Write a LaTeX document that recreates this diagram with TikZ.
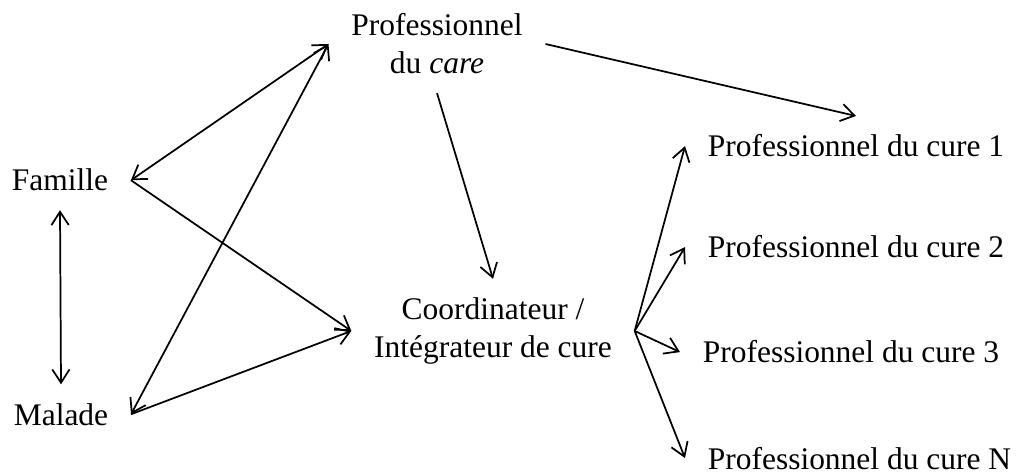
\documentclass[tikz,border=0pt]{standalone}
\usepackage{fontspec}
\setmainfont{Liberation Serif}
\usetikzlibrary{arrows.meta}

\begin{document}
\begin{tikzpicture}[x=0.75pt,y=-0.75pt,line width=1.3pt,
    >={Straight Barb[length=10pt,width=13pt]}]
        \tikzstyle{txt} = [inner xsep=16.5pt,inner ysep=13.5pt,font=\fontsize{23.6}{28.5}\selectfont]
        \useasboundingbox (0,0) rectangle (1016,473);

        \node[txt,anchor=base] (fam) at (60,191) {Famille};
        \node[txt,anchor=base] (mal) at (61,425) {Malade};
        \node[txt,align=center] (care) at (437,44) {Professionnel\\du \textit{care}};
        \node[txt,align=center] (coord) at (493,331) {Coordinateur /\\Int\'egrateur de cure};
        \foreach \l/\x/\y/\n in {c1/707/157/1, c2/707/258/2, c3/702/363/3, cN/707/469/N} {
          \node[txt,anchor=base west,xshift=-16.5pt] (\l) at (\x,\y) {Professionnel du cure \n};
        }

        \draw[<->] (fam.south) -- (mal.north);
        \foreach \a/\b in {fam/care, mal/care} {
          \draw[<->] (\a.east) -- (\b.west);
        }
        \foreach \a in {fam, mal} {
          \draw[->] (\a.east) -- (coord.west);
        }
        \draw[->] (care.south) -- (coord.north);
        \draw[->] (care.east) -- (c1.north);
        \foreach \b in {c1, c2, c3, cN} {
          \draw[->] (coord.east) -- (\b.west);
        }
\end{tikzpicture}
\end{document}
